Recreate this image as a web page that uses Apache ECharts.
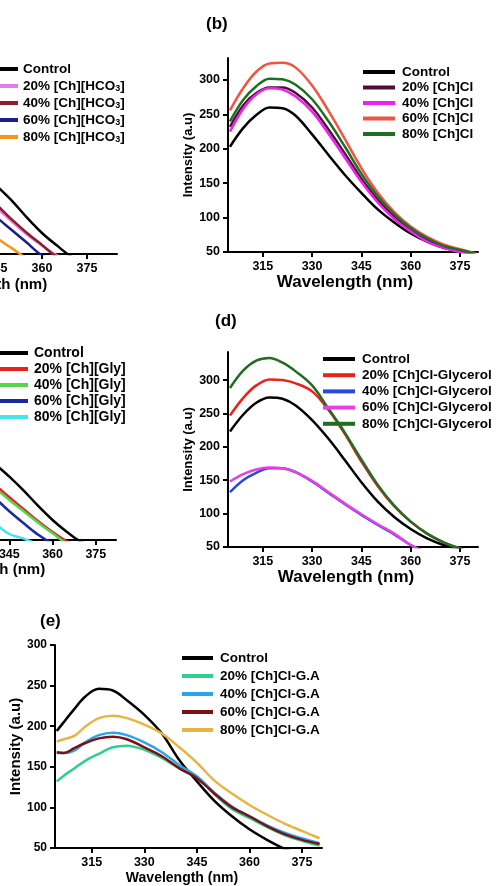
<!DOCTYPE html>
<html lang="en">
<head>
<meta charset="UTF-8">
<title>Fluorescence spectra</title>
<script src="https://cdn.jsdelivr.net/npm/echarts@6/dist/echarts.min.js"></script>
<style>
    body { margin: 0; padding: 0; background: #fff; overflow: hidden; }
    /* panels (a) and (c) are cut off at the left edge, so the canvas starts 150px off screen */
    #chart { position: absolute; left: -150px; top: 0; width: 647px; height: 886px; }
</style>
</head>
<body>
<div id="chart"></div>
<script>
    // wavelengths (nm) and intensities (a.u)
    const aX = [335, 340, 345, 350, 355, 360, 365, 370, 375];
    const aCtrl = [188, 168, 147, 126, 102, 80, 62, 46, 40];
    const a20 = [156, 136, 116, 96, 78, 62, 48, 40, 35];
    const a40 = [162, 141, 120, 99, 80, 63, 46, 40, 35];
    const a60 = [142, 122, 102, 84, 66, 48, 40, 35, 30];
    const a80 = [112, 92, 73, 58, 44, 38, 33, 30, 28];

    const bX = [305, 309, 313, 317, 321, 325, 330, 335, 340, 345, 350, 355, 360, 365, 370, 375, 380];
    const bCtrl = [203, 230, 249, 260, 259, 248, 221, 191, 162, 136, 112, 93, 77, 65, 56, 51, 45];
    const b20 = [232, 263, 281, 289, 289, 281, 260, 228, 193, 157, 126, 101, 82, 67, 58, 51, 45];
    const b40 = [225, 258, 279, 288, 286, 276, 254, 222, 187, 152, 122, 98, 80, 65, 56, 50, 44];
    const b60 = [256, 288, 312, 324, 325, 318, 292, 255, 214, 172, 136, 108, 87, 72, 61, 54, 48];
    const b80 = [240, 271, 291, 302, 301, 293, 272, 240, 203, 164, 131, 105, 85, 70, 59, 53, 47];

    const cX = [335, 340, 345, 350, 355, 360, 365, 370, 375];
    const cCtrl = [183, 164, 145, 124, 101, 80, 62, 47, 40];
    const c20 = [153, 133, 114, 96, 78, 62, 48, 40, 35];
    const c40 = [147, 128, 110, 93, 76, 60, 45, 40, 35];
    const c60 = [133, 113, 93, 75, 58, 45, 40, 35, 30];
    const c80 = [96, 75, 59, 52, 44, 40, 35, 30, 28];

    const dX = [305, 309, 313, 317, 321, 325, 330, 335, 340, 345, 350, 355, 360, 365, 370, 375, 380];
    const dCtrl = [223, 248, 266, 274, 272, 262, 240, 212, 180, 147, 118, 95, 77, 63, 53, 46, 40];
    const d20 = [247, 273, 292, 301, 300, 295, 283, 255, 219, 178, 141, 111, 88, 70, 57, 47, 40];
    const d40 = [132, 150, 161, 168, 168, 162, 148, 131, 114, 98, 83, 69, 53, 42, 35, 30, 25];
    const d60 = [148, 159, 166, 169, 168, 162, 149, 132, 115, 99, 84, 70, 53, 42, 35, 30, 25];
    const d80 = [288, 314, 329, 333, 326, 313, 292, 257, 221, 181, 143, 112, 88, 70, 57, 48, 40];

    const eX = [305, 307, 310, 313, 317, 321, 325, 330, 335, 340, 345, 350, 355, 360, 365, 370, 375, 380];
    const eCtrl = [194, 205, 221, 236, 246, 244, 232, 214, 191, 158, 132, 108, 89, 73, 60, 49, 41, 34];
    const e20 = [132, 139, 148, 157, 166, 174, 176, 171, 161, 148, 138, 116, 98, 87, 76, 66, 59, 53];
    const e40 = [167, 167, 170, 180, 189, 192, 189, 180, 168, 152, 138, 118, 101, 89, 78, 69, 62, 56];
    const e60 = [168, 167, 173, 179, 185, 187, 184, 174, 163, 148, 136, 117, 100, 89, 77, 67, 60, 55];
    const e80 = [181, 184, 188, 199, 210, 213, 210, 202, 191, 174, 155, 133, 117, 103, 91, 80, 71, 62];

    const xTicks = [315, 330, 345, 360, 375];
    const yTicks = [50, 100, 150, 200, 250, 300];

    const aNames = ['Control', '20% [Ch][HCO3]', '40% [Ch][HCO3]', '60% [Ch][HCO3]', '80% [Ch][HCO3]'];
    const bNames = ['Control', '20% [Ch]Cl', '40% [Ch]Cl', '60% [Ch]Cl', '80% [Ch]Cl'];
    const cNames = ['Control', '20% [Ch][Gly]', '40% [Ch][Gly]', '60% [Ch][Gly]', '80% [Ch][Gly]'];
    const dNames = ['Control', '20% [Ch]Cl-Glycerol', '40% [Ch]Cl-Glycerol', '60% [Ch]Cl-Glycerol', '80% [Ch]Cl-Glycerol'];
    const eNames = ['Control', '20% [Ch]Cl-G.A', '40% [Ch]Cl-G.A', '60% [Ch]Cl-G.A', '80% [Ch]Cl-G.A'];

    const font = 'Liberation Sans, Arial, sans-serif';
    const OFF = 150; // canvas shift, see CSS

    function xAx(idx, min, max, nameSize, namePad, nameGap) {
        return {
            gridIndex: idx, type: 'value', min: min, max: max,
            axisLine: { onZero: false, lineStyle: { color: '#000', width: 2 } },
            axisTick: { show: true, length: 5, customValues: xTicks, lineStyle: { color: '#000', width: 2 } },
            axisLabel: { customValues: xTicks, margin: 8, fontSize: 12.5, fontWeight: 'bold', color: '#000', fontFamily: font },
            splitLine: { show: false },
            name: 'Wavelength (nm)', nameLocation: 'middle', nameGap: nameGap,
            nameTextStyle: { fontSize: nameSize, fontWeight: 'bold', color: '#000', fontFamily: font, padding: [0, namePad, 0, 0] }
        };
    }

    function yAx(idx, max, nameSize, nameGap, labelSize) {
        return {
            gridIndex: idx, type: 'value', min: 50, max: max,
            axisLine: { show: true, lineStyle: { color: '#000', width: 2 } },
            axisTick: { show: true, length: 5, customValues: yTicks, lineStyle: { color: '#000', width: 2 } },
            axisLabel: { customValues: yTicks, margin: 8, fontSize: labelSize, fontWeight: 'bold', color: '#000', fontFamily: font },
            splitLine: { show: false },
            name: 'Intensity (a.u)', nameLocation: 'middle', nameGap: nameGap,
            nameTextStyle: { fontSize: nameSize, fontWeight: 'bold', color: '#000', fontFamily: font }
        };
    }

    function gridAt(left, top, width, height) {
        return { left: left + OFF, top: top, width: width, height: height, containLabel: false, outerBoundsMode: 'none' };
    }

    function legendAt(names, left, top, itemWidth, gap, fontSize, textPad) {
        return {
            data: names, orient: 'vertical', left: left + OFF, top: top, padding: 0,
            icon: 'rect', itemWidth: itemWidth, itemHeight: 4, itemGap: gap,
            selectedMode: false,
            formatter: function (name) { return name.replace('HCO3', 'HCO{sub|3}'); },
            textStyle: {
                fontSize: fontSize, fontWeight: 'bold', color: '#000', fontFamily: font,
                padding: [0, 0, 0, textPad],
                rich: { sub: { fontSize: 9, fontWeight: 'bold', fontFamily: font, verticalAlign: 'bottom', color: '#000' } }
            }
        };
    }

    function line(name, xs, ys, color, idx) {
        return {
            name: name, type: 'line', xAxisIndex: idx, yAxisIndex: idx,
            data: xs.map((x, i) => [x, ys[i]]),
            smooth: 0.35, showSymbol: false, symbol: 'none',
            lineStyle: { color: color, width: 2.5 }, itemStyle: { color: color }
        };
    }

    function panelTitle(text, left, top) {
        return { text: text, left: left + OFF, top: top, padding: 0,
                 textStyle: { fontSize: 17, fontWeight: 'bold', color: '#000', fontFamily: font } };
    }

    const chart = echarts.init(document.getElementById('chart'));

    const option = {
        animation: false,
        backgroundColor: '#fff',
        title: [
            panelTitle('(b)', 206, 16),
            panelTitle('(d)', 215, 313),
            panelTitle('(e)', 40, 613)
        ],
        grid: [
            gridAt(-123, 58, 240, 196),
            gridAt(228, 58, 250, 194),
            gridAt(-106, 355, 222, 185),
            gridAt(228, 352, 250, 195),
            gridAt(55, 645, 267, 203)
        ],
        xAxis: [
            xAx(0, 305, 385, 15, 20, 23),
            xAx(1, 304.4, 380.5, 17, 16, 22),
            xAx(2, 305, 382, 15, 40, 21),
            xAx(3, 304.4, 380.5, 17, 14, 22),
            xAx(4, 304.5, 380.7, 14, 13, 23)
        ],
        yAxis: [
            yAx(0, 330, 13, 33, 12.5),
            yAx(1, 332, 13, 33, 12.5),
            yAx(2, 327, 13, 33, 12.5),
            yAx(3, 342, 13, 33, 12.5),
            yAx(4, 300, 15, 31, 12)
        ],
        legend: [
            legendAt(aNames, -12, 62, 30, 3, 13.5, 0),
            legendAt(bNames, 363, 65, 32, 1.5, 13.5, 2),
            legendAt(cNames, -5, 346, 33, 2, 14, 1),
            legendAt(dNames, 323, 352, 32, 2.2, 13.5, 2),
            legendAt(eNames, 182, 651, 31, 4, 13.5, 2)
        ],
        series: [
            line(aNames[0], aX, aCtrl, '#000000', 0),
            line(aNames[1], aX, a20, '#e27de8', 0),
            line(aNames[2], aX, a40, '#8e1c2c', 0),
            line(aNames[3], aX, a60, '#1c1f8a', 0),
            line(aNames[4], aX, a80, '#f7941d', 0),

            line(bNames[0], bX, bCtrl, '#000000', 1),
            line(bNames[1], bX, b20, '#4d0d36', 1),
            line(bNames[2], bX, b40, '#ee22ee', 1),
            line(bNames[3], bX, b60, '#f2543f', 1),
            line(bNames[4], bX, b80, '#1f6e24', 1),

            line(cNames[0], cX, cCtrl, '#000000', 2),
            line(cNames[1], cX, c20, '#e8231c', 2),
            line(cNames[2], cX, c40, '#52d84c', 2),
            line(cNames[3], cX, c60, '#1b2a9c', 2),
            line(cNames[4], cX, c80, '#43e6ef', 2),

            line(dNames[0], dX, dCtrl, '#000000', 3),
            line(dNames[1], dX, d20, '#e8231c', 3),
            line(dNames[2], dX, d40, '#2848e0', 3),
            line(dNames[3], dX, d60, '#e83ee8', 3),
            line(dNames[4], dX, d80, '#1f6e24', 3),

            line(eNames[0], eX, eCtrl, '#000000', 4),
            line(eNames[1], eX, e20, '#2ecf8f', 4),
            line(eNames[2], eX, e40, '#2aa5ea', 4),
            line(eNames[3], eX, e60, '#7c1114', 4),
            line(eNames[4], eX, e80, '#e8b443', 4)
        ]
    };

    chart.setOption(option);
</script>
</body>
</html>
